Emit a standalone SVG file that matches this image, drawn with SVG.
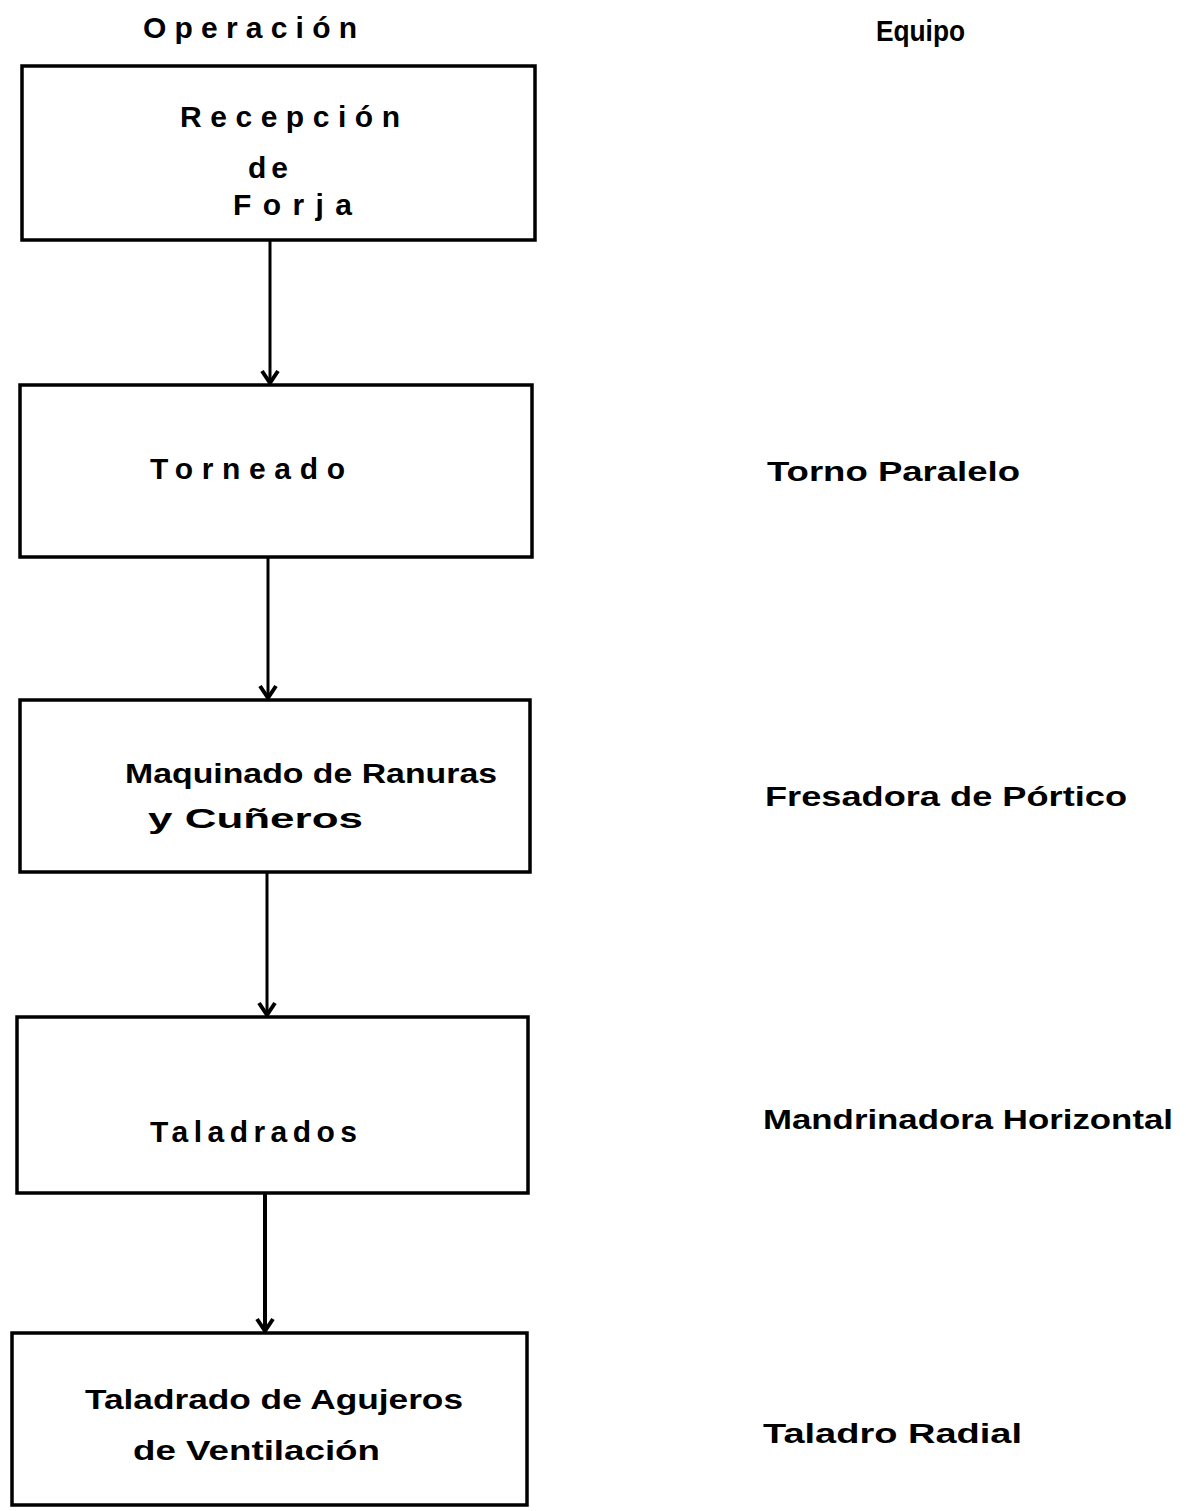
<svg xmlns="http://www.w3.org/2000/svg" width="1186" height="1511" viewBox="0 0 1186 1511">
<style>
.box{fill:none;stroke:#000;stroke-width:3.5}
.t{font-family:"Liberation Sans",Arial,sans-serif;font-weight:bold;font-size:27px;fill:#000}
.tw{font-family:"Liberation Sans",Arial,sans-serif;font-weight:bold;font-size:30px;fill:#000}
.c{stroke:#000;stroke-width:3;fill:none}
</style>
<defs>
<marker id="ah" viewBox="-2 -2 18 20" refX="13" refY="8" markerWidth="18" markerHeight="20" markerUnits="userSpaceOnUse" orient="auto" overflow="visible">
<polyline points="1,0 13,8 1,16" fill="none" stroke="#000" stroke-width="4" stroke-linejoin="round"/>
</marker>
</defs>
<rect width="1186" height="1511" fill="#fff"/>
<g id="headers">
<text class="tw" x="143" y="38" textLength="214" lengthAdjust="spacing">Operación</text>
<text class="tw" x="876" y="41" textLength="89" lengthAdjust="spacingAndGlyphs">Equipo</text>
</g>
<g id="node1">
<rect class="box" x="22" y="66" width="513" height="174"/>
<text class="tw" x="180" y="127" textLength="220" lengthAdjust="spacing">Recepción</text>
<text class="tw" x="248" y="178" textLength="40" lengthAdjust="spacing">de</text>
<text class="tw" x="233" y="215" textLength="119" lengthAdjust="spacing">Forja</text>
</g>
<g id="node2">
<rect class="box" x="20" y="385" width="512" height="172"/>
<text class="tw" x="150" y="479" textLength="195" lengthAdjust="spacing">Torneado</text>
<text class="t" x="767" y="481" textLength="253" lengthAdjust="spacingAndGlyphs">Torno Paralelo</text>
</g>
<g id="node3">
<rect class="box" x="20" y="700" width="510" height="172"/>
<text class="t" x="125" y="783" textLength="372" lengthAdjust="spacingAndGlyphs">Maquinado de Ranuras</text>
<text class="t" x="148" y="828" textLength="215" lengthAdjust="spacingAndGlyphs">y  Cuñeros</text>
<text class="t" x="765" y="806" textLength="362" lengthAdjust="spacingAndGlyphs">Fresadora de Pórtico</text>
</g>
<g id="node4">
<rect class="box" x="17" y="1017" width="511" height="176"/>
<text class="tw" x="150" y="1142" textLength="207" lengthAdjust="spacing">Taladrados</text>
<text class="t" x="763" y="1129" textLength="410" lengthAdjust="spacingAndGlyphs">Mandrinadora Horizontal</text>
</g>
<g id="node5">
<rect class="box" x="12" y="1333" width="515" height="172"/>
<text class="t" x="85" y="1409" textLength="378" lengthAdjust="spacingAndGlyphs">Taladrado de Agujeros</text>
<text class="t" x="133" y="1460" textLength="247" lengthAdjust="spacingAndGlyphs">de Ventilación</text>
<text class="t" x="763" y="1443" textLength="259" lengthAdjust="spacingAndGlyphs">Taladro Radial</text>
</g>
<g id="connectors">
<line class="c" x1="270" y1="240" x2="270" y2="383" marker-end="url(#ah)"/>
<line class="c" x1="268" y1="557" x2="268" y2="698" marker-end="url(#ah)"/>
<line class="c" x1="267" y1="872" x2="267" y2="1015" marker-end="url(#ah)"/>
<line class="c" x1="265" y1="1193" x2="265" y2="1331" marker-end="url(#ah)" style="stroke-width:4"/>
</g>
</svg>
